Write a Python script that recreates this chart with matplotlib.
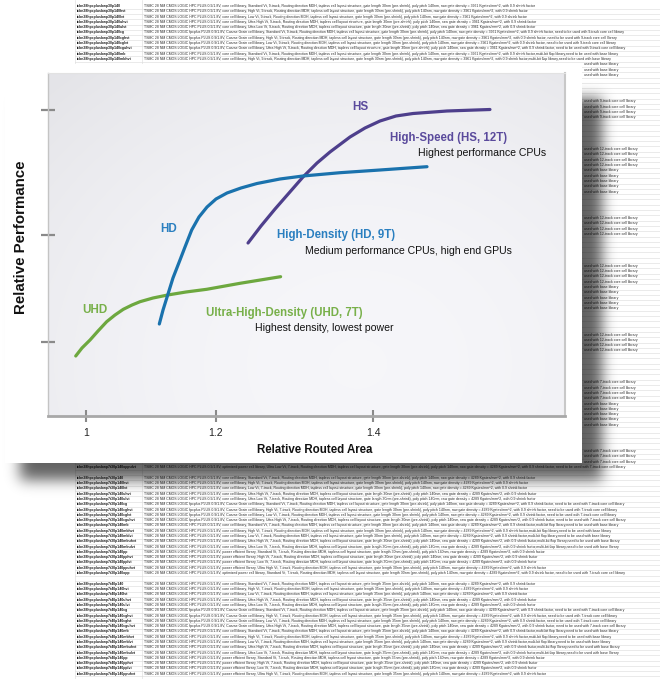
import numpy as np
import matplotlib
matplotlib.use("Agg")
import matplotlib.pyplot as plt
from matplotlib.patches import Rectangle
from math import erf

# ---------------- chart data ----------------
x_ticks = [1.0, 1.2, 1.4]
x_tick_labels = ["1", "1.2", "1.4"]
y_ticks = [0.74, 1.81, 3.06]

uhd_area = [0.9842, 0.9938, 1.0062, 1.0185, 1.0318, 1.0446, 1.0574, 1.0708, 1.0831,
            1.1031, 1.1257, 1.1538, 1.1857, 1.2306, 1.2823]
uhd_perf = [0.60, 0.68, 0.76, 0.85, 0.943, 1.01, 1.067, 1.11, 1.143,
            1.18, 1.21, 1.24, 1.267, 1.327, 1.393]

hd_area = [1.1128, 1.1185, 1.1257, 1.1338, 1.1446, 1.1523, 1.1626, 1.1738, 1.1862,
           1.2000, 1.2140, 1.2318, 1.2522, 1.2815, 1.3108, 1.3580, 1.4089, 1.4688]
hd_perf = [0.92, 1.06, 1.21, 1.38, 1.56, 1.69, 1.86, 1.99, 2.09,
           2.17, 2.23, 2.28, 2.325, 2.37, 2.40, 2.433, 2.46, 2.493]

hs_area = [1.2408, 1.2573, 1.2752, 1.2930, 1.3108, 1.3287, 1.3452, 1.3707, 1.3898,
           1.4089, 1.4293, 1.4510, 1.4943, 1.5490]
hs_perf = [1.73, 1.90, 2.07, 2.23, 2.39, 2.53, 2.64, 2.79, 2.88,
           2.95, 3.00, 3.025, 3.05, 3.065]

short_names = ["UHD", "HD", "HS"]
long_names = ["Ultra-High-Density (UHD, 7T)", "High-Density (HD, 9T)", "High-Speed (HS, 12T)"]
descriptions = ["Highest density, lowest power",
                "Medium performance CPUs, high end GPUs",
                "Highest performance CPUs"]
x_title = "Relative Routed Area"
y_title = "Relative Performance"

# ---------------- background document table text ----------------
sections = [  # first row, prefix, track, density, gate length
    (0, "tcbn28hpcplusbwp30p140", 9, 3961, 30),
    (22, "tcbn28hpcplusbwp12t30p140", 12, 2971, 30),
    (44, "tcbn28hpcplusbwp12t40p140", 12, 2971, 35),
    (66, "tcbn28hpcplusbwp7t30p140", 7, 4289, 30),
    (89, "tcbn28hpcplusbwp7t30p140", 7, 4289, 30),
    (109, "tcbn28hpcplusbwp7t40p140", 7, 4289, 35),
]
section_sizes = [22, 22, 22, 22, 19, 18]
suffixes = ["", "hvt", "lvt", "uhvt", "ulvt", "cg", "cghvt", "cglvt", "cguhvt",
            "mb", "mbhvt", "mblvt", "mbuhvt", "mbulvt", "pp", "pphvt", "pplvt",
            "ppuhvt", "opp", "opphvt", "opplvt", "oppulvt"]
vt_names = {"": "Standard Vt", "hvt": "High Vt", "lvt": "Low Vt",
            "uhvt": "Ultra High Vt", "ulvt": "Ultra Low Vt"}
lib_names = {"": "core cell library", "cg": "Coarse Grain cell library",
             "mb": "core cell library", "pp": "power efficient library",
             "opp": "optimized power cell library"}


def lib_of(suffix):
    for p in ["opp", "cg", "mb", "pp"]:
        if suffix.startswith(p):
            return p
    return ""


def extra_of(suffix, track):
    lib = lib_of(suffix)
    if lib == "mb":
        return ",multi-bit flop library,need to be used with base library"
    if lib in ("cg", "opp"):
        return f", need to be used with {track}-track core cell library"
    return ""


def describe(suffix, track, dens, gate):
    lib = lib_of(suffix)
    vt = vt_names[suffix[len(lib):]]
    head = "TSMC 28 NM CMOS LOGIC " + ("fpcplus" if lib == "cg" else "HPC") + " PLUS 0.9/1.8V"
    txt = (f"{head}, {lib_names[lib]}, {vt}, {track}-track, Routing direction MDH, "
           f"tapless cell layout structure, gate length {gate}nm (pre-shrink), poly pitch 140nm, "
           f"raw gate density = {dens} Kgates/mm^2, with 0.9 shrink factor")
    return txt + extra_of(suffix, track)


W, H = 660, 679
fig = plt.figure(figsize=(W / 100, H / 100), dpi=100)
fig.patch.set_facecolor("white")

bg = fig.add_axes([0, 0, 1, 1], zorder=0)
bg.set_xlim(0, W)
bg.set_ylim(H, 0)
bg.axis("off")

row_step = 5.3
row0 = 6.0
for k in range(128):
    yb = row0 + row_step * k + row_step / 2
    bg.plot([75, W], [yb, yb], color="#dadada", lw=0.4, zorder=1)
bg.plot([75, 75], [0, H], color="#dadada", lw=0.4, zorder=1)
bg.plot([142, 142], [0, H], color="#dadada", lw=0.4, zorder=1)

slide_top, slide_bottom, slide_right = 64, 463, 582
for (start, prefix, track, dens, gate), n in zip(sections, section_sizes):
    for i in range(n):
        k = start + i
        y = row0 + row_step * k
        suf = suffixes[i % len(suffixes)]
        if slide_top - 1 < y < slide_bottom + 1:
            # only the end of long rows sticks out right of the pasted slide
            ex = extra_of(suf, track)
            if ex:
                tail = "used with base library" if "base" in ex else f"used with {track}-track core cell library"
                bg.text(slide_right + 2, y, tail, fontsize=2.5, family="Liberation Sans",
                        color="#2e2e2e", va="center", zorder=2)
            continue
        bg.text(77, y, prefix + suf, fontsize=2.5, fontweight="bold",
                family="Liberation Sans", color="#1e1e1e", va="center", zorder=2)
        bg.text(144, y, describe(suf, track, dens, gate), fontsize=2.5,
                family="Liberation Sans", color="#2e2e2e", va="center", zorder=2)

# soft drop shadow of the pasted slide
xx = np.arange(W) + 0.5
yy = np.arange(H) + 0.5
s = 10.0
verf = np.vectorize(erf)
fx = 0.5 * (verf((xx - 20) / s) - verf((xx - 602) / s))
fy = 0.5 * (verf((yy - 98) / s) - verf((yy - 480) / s))
alpha = 0.62 * np.outer(fy, fx)
shadow = np.zeros((H, W, 4))
shadow[..., 3] = alpha
bg.imshow(shadow, extent=[0, W, H, 0], zorder=3, interpolation="bilinear")
bg.add_patch(Rectangle((5, slide_top), slide_right - 5, slide_bottom - slide_top,
                       facecolor="white", edgecolor="none", zorder=4))
bg.set_xlim(0, W)
bg.set_ylim(H, 0)

# ---------------- chart ----------------
def fwd(a):
    a = np.asarray(a, dtype=float)
    return np.where(a < 1.2, 86 + 650 * (a - 1.0), 216 + 785 * (a - 1.2))


def inv(p):
    p = np.asarray(p, dtype=float)
    return np.where(p < 216, 1.0 + (p - 86) / 650, 1.2 + (p - 216) / 785)


ax = fig.add_axes([48 / W, (H - 416) / H, 517 / W, 343 / H], zorder=5)
ax.set_facecolor("none")
ax.set_xscale("function", functions=(fwd, inv))

# panel gradient
gx, gy = np.meshgrid(np.linspace(0, 1, 200), np.linspace(0, 1, 200))
v = 0.965 - 0.05 * np.clip(((gx - 0.6) ** 2 / 0.55 + (gy - 0.15) ** 2 / 0.9), 0, 1.4)
grad = np.clip(np.dstack([v, v, v + 0.015]), 0, 1)
ax.imshow(grad, extent=[0, 1, 0, 1], transform=ax.transAxes, origin="lower",
          aspect="auto", zorder=0, interpolation="bilinear")

c_uhd, c_hd, c_hs = "#6da83f", "#1a72ad", "#4e3f8c"
kw = dict(lw=2.3, solid_capstyle="round", solid_joinstyle="round", zorder=3)
ax.plot(uhd_area, uhd_perf, color=c_uhd, **kw)
ax.plot(hs_area, hs_perf, color=c_hs, **kw)
ax.plot(hd_area, hd_perf, color=c_hd, **kw)

fam = "Liberation Sans"
bold_kw = dict(fontweight="bold", family=fam, va="center", ha="left", zorder=4)
ax.text(0.9938, 1.06, short_names[0], color="#78b04a", fontsize=8.4, **bold_kw)
ax.text(1.1138, 1.87, short_names[1], color="#2a7fc0", fontsize=8.4, **bold_kw)
ax.text(1.3732, 3.09, short_names[2], color="#5a4a9c", fontsize=8.4, **bold_kw)

ax.text(1.1846, 1.03, long_names[0], color="#78b04a", fontsize=8.3, **bold_kw)
ax.text(1.2777, 1.81, long_names[1], color="#2a7fc0", fontsize=8.3, **bold_kw)
ax.text(1.4217, 2.78, long_names[2], color="#5a4a9c", fontsize=8.3, **bold_kw)

desc_kw = dict(family=fam, va="center", ha="left", color="#111111", fontsize=7.6, zorder=4)
ax.text(1.2497, 0.88, descriptions[0], **desc_kw)
ax.text(1.3134, 1.65, descriptions[1], **desc_kw)
ax.text(1.4573, 2.63, descriptions[2], **desc_kw)

ax.set_xlim(inv(48), inv(565))
ax.set_ylim(0, 3.43)
ax.set_xticks(x_ticks)
ax.set_xticklabels(x_tick_labels, family=fam, fontsize=7.5, color="#222222")
ax.set_yticks(y_ticks)
ax.set_yticklabels([])
ax.tick_params(axis="x", direction="inout", length=8, width=1.5, color="#8a8a8a", pad=5)
ax.tick_params(axis="y", direction="inout", length=9.5, width=1.6, color="#8a8a8a")

for side, col, lw in [("left", "#c4c4c4", 1.0), ("bottom", "#a8a8a8", 2.0),
                      ("right", "#c8c8c8", 1.5), ("top", "#e2e2e2", 0.8)]:
    ax.spines[side].set_color(col)
    ax.spines[side].set_linewidth(lw)

ax.set_xlabel(x_title, family=fam, fontweight="bold", fontsize=8.3, color="#111111")
ax.xaxis.set_label_coords((315 - 48) / 517, (416 - 450) / 343)
ax.xaxis.label.set_va("center")
ax.set_ylabel(y_title, family=fam, fontweight="bold", fontsize=10.8, color="#111111")
ax.yaxis.set_label_coords((21 - 48) / 517, (416 - 237) / 343)
ax.yaxis.label.set_va("center")

fig.savefig("out.png", dpi=100, facecolor="white")
